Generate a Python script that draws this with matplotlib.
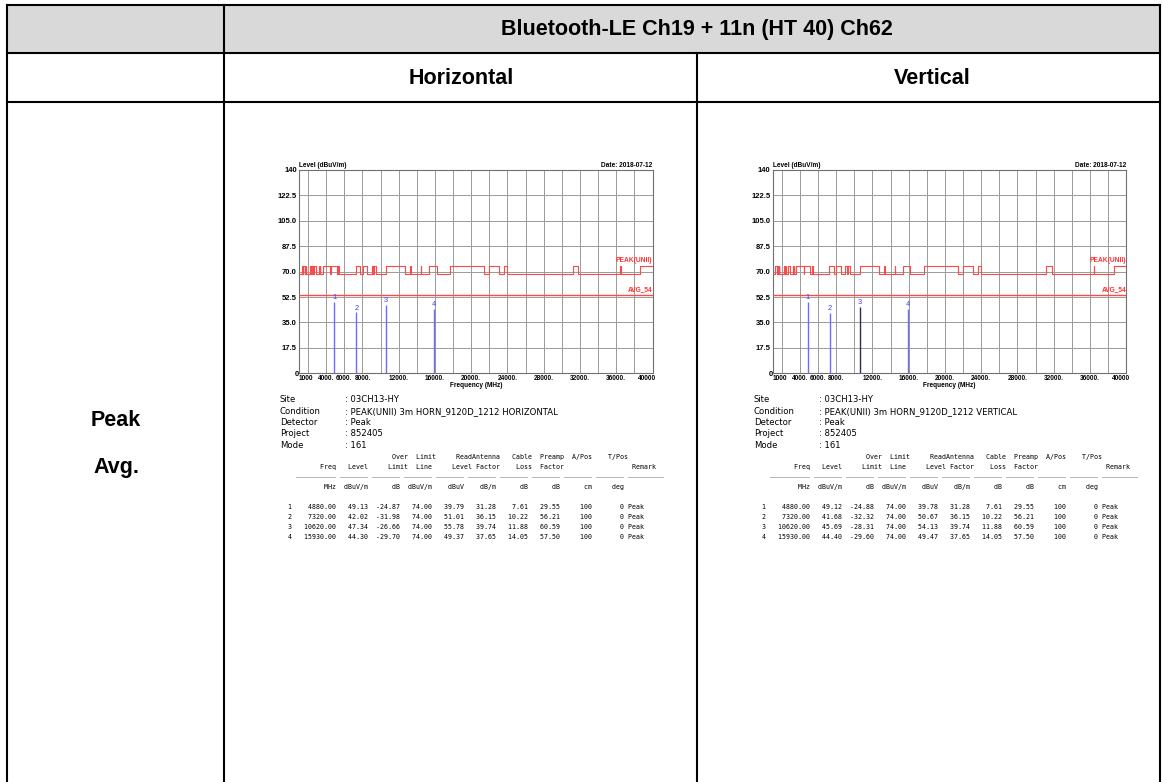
import numpy as np
import matplotlib.pyplot as plt
from matplotlib.patches import Rectangle
from matplotlib.transforms import ScaledTranslation

W, H = 1163, 782

# restricted bands (MHz): peak limit 74 dBuV/m inside, 68.2 outside
band_start = [1300, 1435, 1645.5, 1660, 1718.8, 2200, 2310, 2483.5, 2690, 3260, 3332,
              3345.8, 3600, 4500, 5350, 7250, 8025, 9000, 9300, 10600, 13250, 14470,
              15350, 17700, 22010, 23600, 31200, 36430, 38600]
band_stop = [1427, 1626.5, 1646.5, 1710, 1722.2, 2300, 2390, 2500, 2900, 3267, 3339,
             3358, 4400, 5150, 5460, 7750, 8500, 9200, 9500, 12700, 13400, 14500,
             16200, 21400, 23120, 24000, 31800, 36500, 40000]
peak_hi = 74.0
peak_lo = 68.2
avg_limit = 54.0

# marker table values
marker_freq = [4880.00, 7320.00, 10620.00, 15930.00]
h_level = [49.13, 42.02, 47.34, 44.30]
v_level = [49.12, 41.68, 45.69, 44.40]
h_over = [-24.87, -31.98, -26.66, -29.70]
v_over = [-24.88, -32.32, -28.31, -29.60]
limit_line = [74.00, 74.00, 74.00, 74.00]
h_read = [39.79, 51.01, 55.78, 49.37]
v_read = [39.78, 50.67, 54.13, 49.47]
ant_factor = [31.28, 36.15, 39.74, 37.65]
cable_loss = [7.61, 10.22, 11.88, 14.05]
preamp = [29.55, 56.21, 60.59, 57.50]
a_pos = [100, 100, 100, 100]
t_pos = [0, 0, 0, 0]
remark = ['Peak', 'Peak', 'Peak', 'Peak']

y_ticks = [0, 17.5, 35, 52.5, 70, 87.5, 105, 122.5, 140]
y_tick_labels = ['0', '17.5', '35.0', '52.5', '70.0', '87.5', '105.0', '122.5', '140']
x_ticks = [1000, 4000, 6000, 8000, 12000, 16000, 20000, 24000, 28000, 32000, 36000, 40000]
x_tick_labels = ['1000', '4000.', '6000.', '8000.', '12000.', '16000.', '20000.',
                 '24000.', '28000.', '32000.', '36000.', '40000']

info_keys = ['Site', 'Condition', 'Detector', 'Project', 'Mode']
h_info = [': 03CH13-HY', ': PEAK(UNII) 3m HORN_9120D_1212 HORIZONTAL', ': Peak', ': 852405', ': 161']
v_info = [': 03CH13-HY', ': PEAK(UNII) 3m HORN_9120D_1212 VERTICAL', ': Peak', ': 852405', ': 161']

fig = plt.figure(figsize=(W / 100, H / 100), dpi=100)
bg = fig.add_axes([0, 0, 1, 1])
bg.set_xlim(0, W)
bg.set_ylim(H, 0)
bg.axis('off')

# ---- table frame ----
bg.add_patch(Rectangle((7, 5), 1153, 48, color='#d9d9d9', lw=0))
lw = 1.5
for y in [5, 53, 102]:
    bg.plot([7, 1160], [y, y], color='black', lw=lw, solid_capstyle='projecting')
for x in [7, 224, 1160]:
    bg.plot([x, x], [5, H + 5], color='black', lw=lw)
bg.plot([697, 697], [53, H + 5], color='black', lw=lw)

bold = dict(family='Liberation Sans', weight='bold')
bg.text(697, 29, 'Bluetooth-LE Ch19 + 11n (HT 40) Ch62', ha='center', va='center', fontsize=15.5, **bold)
bg.text(461, 78, 'Horizontal', ha='center', va='center', fontsize=15.5, **bold)
bg.text(932, 78, 'Vertical', ha='center', va='center', fontsize=15.5, **bold)
bg.text(116, 420, 'Peak', ha='center', va='center', fontsize=15.5, **bold)
bg.text(116, 467, 'Avg.', ha='center', va='center', fontsize=15.5, **bold)


def px_axes(x0, y0, x1, y1):
    return fig.add_axes([x0 / W, 1 - y1 / H, (x1 - x0) / W, (y1 - y0) / H])


def draw_chart(x0, levels, marker_colors):
    ax = px_axes(x0, 170, x0 + 353.5, 373.3)
    ax.set_xlim(1000, 40000)
    ax.set_ylim(0, 140)
    for g in range(2000, 40000, 2000):
        ax.axvline(g, color='#9a9a9a', lw=0.7, zorder=1)
    for g in y_ticks[1:-1]:
        ax.axhline(g, color='#9a9a9a', lw=0.7, zorder=1)

    # peak limit as a step line built from the restricted bands
    xs, ys = [1000], [peak_lo]
    for a, b in zip(band_start, band_stop):
        xs += [a, a, b, b]
        ys += [peak_lo, peak_hi, peak_hi, peak_lo]
    if xs[-1] >= 40000:
        xs, ys = xs[:-1], ys[:-1]
    ax.plot(xs, ys, color='#ff4848', lw=0.8, zorder=3)
    ax.axhline(avg_limit, color='#ff4848', lw=1.0, zorder=3)
    ax.text(40000, peak_hi + 1, 'PEAK(UNII)', color='#ff3030', ha='right', va='bottom',
            fontsize=4.8, **bold)
    ax.text(40000, avg_limit + 1, 'AVG_54', color='#ff3030', ha='right', va='bottom',
            fontsize=4.8, **bold)

    ax.vlines(marker_freq, 0, levels, colors=marker_colors, lw=1.0, zorder=4)
    for i, (f, lv) in enumerate(zip(marker_freq, levels)):
        ax.text(f, lv + 0.5, str(i + 1), color='#4040ff', ha='center', va='bottom',
                fontsize=5.4, family='Liberation Sans')

    ax.set_yticks(y_ticks)
    ax.set_yticklabels(y_tick_labels, fontsize=5.5, **bold)
    ax.set_xticks(x_ticks)
    ax.set_xticklabels(x_tick_labels, fontsize=4.7, **bold)
    ax.tick_params(length=0, pad=1.5)
    xl = ax.get_xticklabels()
    xl[0].set_ha('left')
    xl[-1].set_transform(xl[-1].get_transform() + ScaledTranslation(-5 / 100, 0, fig.dpi_scale_trans))
    yl = ax.get_yticklabels()
    yl[0].set_transform(yl[0].get_transform() + ScaledTranslation(2 / 100, 0, fig.dpi_scale_trans))
    ax.set_xlabel('Frequency (MHz)', fontsize=4.7, labelpad=0, **bold)
    ax.text(0, 1.005, 'Level (dBuV/m)', transform=ax.transAxes, ha='left', va='bottom',
            fontsize=4.7, **bold)
    ax.text(1, 1.005, 'Date: 2018-07-12', transform=ax.transAxes, ha='right', va='bottom',
            fontsize=4.7, **bold)
    for s in ax.spines.values():
        s.set_color('#707070')
        s.set_linewidth(0.8)


def draw_report(dx, info_vals, level, over, read):
    for k, (key, val) in enumerate(zip(info_keys, info_vals)):
        y = 400 + k * 11.3
        bg.text(280 + dx, y, key, fontsize=6.1, va='center', family='DejaVu Sans')
        bg.text(345 + dx, y, val, fontsize=6.1, va='center', family='DejaVu Sans')
    head1 = (f"{'Over':>33}{'Limit':>7}{'ReadAntenna':>16}{'Cable':>8}{'Preamp':>8}"
             f"{'A/Pos':>7}{'T/Pos':>9}")
    head2 = (f"{'Freq':>15}{'Level':>8}{'Limit':>10}{'Line':>6}{'Level':>10}{'Factor':>7}"
             f"{'Loss':>8}{'Factor':>8}{'Remark':>23}")
    under = ' ' * 5 + '_' * 10 + (' ' + '_' * 7) * 9 + ' ' + '_' * 9
    units = (f"{'MHz':>15}{'dBuV/m':>8}{'dB':>8}{'dBuV/m':>8}{'dBuV':>8}{'dB/m':>8}"
             f"{'dB':>8}{'dB':>8}{'cm':>8}{'deg':>8}")
    mono = dict(fontsize=4.8, family='DejaVu Sans Mono', va='center')
    x_m = 276.5 + dx
    bg.text(x_m, 456.7, head1, **mono)
    bg.text(x_m, 467, head2, **mono)
    bg.text(x_m, 474, under, **mono)
    bg.text(x_m, 487, units, **mono)
    for i in range(len(marker_freq)):
        row = (f"{i + 1:4d}{marker_freq[i]:11.2f}{level[i]:8.2f}{over[i]:8.2f}{limit_line[i]:8.2f}"
               f"{read[i]:8.2f}{ant_factor[i]:8.2f}{cable_loss[i]:8.2f}{preamp[i]:8.2f}"
               f"{a_pos[i]:8d}{t_pos[i]:8d} {remark[i]}")
        bg.text(x_m, 507 + i * 10, row, **mono)


draw_chart(299, h_level, ['#6b6bff'] * 4)
draw_chart(772.7, v_level, ['#6b6bff', '#6b6bff', '#2a2a5a', '#6b6bff'])
draw_report(0, h_info, h_level, h_over, h_read)
draw_report(474, v_info, v_level, v_over, v_read)

fig.savefig('out.png', dpi=100)
